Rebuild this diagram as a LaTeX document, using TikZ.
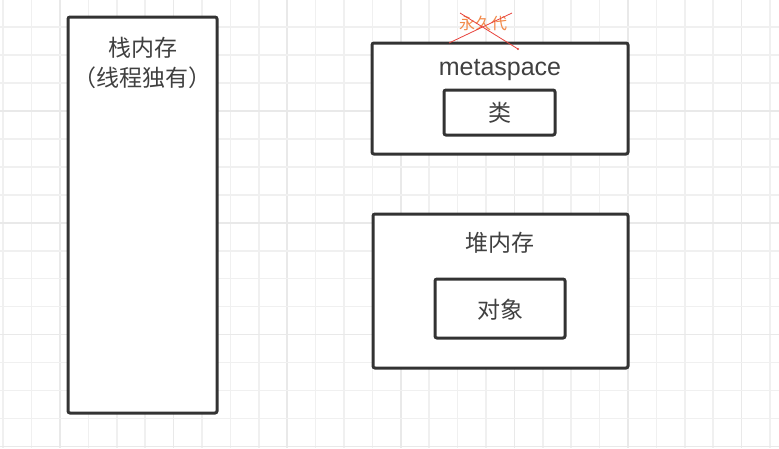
\documentclass[tikz,border=0pt]{standalone}
\usepackage{fontspec}
\setmainfont{Liberation Sans}
\newfontfamily\cjk{Noto Sans CJK SC}
\definecolor{boxc}{HTML}{333333}
\definecolor{txtc}{HTML}{404040}
\definecolor{gridminor}{HTML}{F0F0F0}
\definecolor{gridmajor}{HTML}{E9E9E9}
\definecolor{permc}{HTML}{F28A4A}
\definecolor{strikec}{HTML}{E8423C}
\begin{document}
\begin{tikzpicture}[x=1pt,y=-1pt,
  box/.style={draw=boxc, line width=3pt, rounded corners=2pt, fill=white, inner sep=0pt},
  lbl/.style={text=txtc, font=\cjk\fontsize{23}{28}\selectfont, inner sep=0pt},
  latinlbl/.style={text=txtc, font=\fontsize{25}{28}\selectfont, inner sep=0pt},
  permlbl/.style={text=permc, font=\cjk\fontsize{16}{20}\selectfont, inner sep=0pt},
  minorgrid/.style={draw=gridminor, line width=1.5pt},
  majorgrid/.style={draw=gridmajor, line width=1.5pt},
  strike/.style={draw=strikec, line width=0.8pt}]
\useasboundingbox (0,0) rectangle (779,448);
\fill[white] (0,0) rectangle (779,448);
% grid
\foreach \i in {-2,...,25}{
  \pgfmathtruncatemacro{\m}{mod(\i+100,4)}
  \ifnum\m=0
    \draw[majorgrid] ({60+28.4*\i},0) -- ({60+28.4*\i},448);
  \else
    \draw[minorgrid] ({60+28.4*\i},0) -- ({60+28.4*\i},448);
  \fi
}
\foreach \j in {-4,...,12}{
  \pgfmathtruncatemacro{\m}{mod(\j+100,4)}
  \ifnum\m=0
    \draw[majorgrid] (0,{111+27.95*\j}) -- (779,{111+27.95*\j});
  \else
    \draw[minorgrid] (0,{111+27.95*\j}) -- (779,{111+27.95*\j});
  \fi
}
% boxes
\node[box, minimum width=149pt, minimum height=396pt] (stack) at (142.5,215) {};
\node[box, minimum width=256pt, minimum height=111pt] (meta) at (500,98.5) {};
\node[box, minimum width=111pt, minimum height=45pt] (cls) at (499.5,112.5) {};
\node[box, minimum width=255pt, minimum height=154pt] (heap) at (500.5,291) {};
\node[box, minimum width=130pt, minimum height=59pt] (obj) at (500,308.5) {};
% labels
\node[lbl] (stacktitle) at (143,48) {栈内存};
\node[lbl] (stacksub) at (142,78) {（线程独有）};
\node[latinlbl] (metatitle) at (500,70) {metaspace};
\node[lbl] (clstext) at (500,113) {类};
\node[lbl] (heaptitle) at (500,243) {堆内存};
\node[lbl] (objtext) at (500,310) {对象};
\node[permlbl] (perm) at (483,23) {永久代};
% strike-through of 永久代
\coordinate (s1a) at (449,43);
\coordinate (s1b) at (512,13);
\coordinate (s2a) at (460,13);
\coordinate (s2b) at (518,49);
\draw[strike] (s1a) -- (s1b);
\draw[strike] (s2a) -- (s2b);
\fill[strikec] (s2b) circle (1.2pt);
\end{tikzpicture}
\end{document}
